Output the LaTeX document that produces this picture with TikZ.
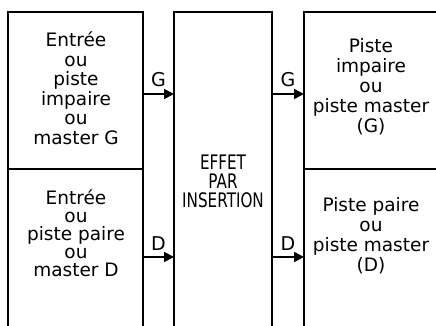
\documentclass[tikz,border=0pt]{standalone}
\usepackage{fontspec}
\setmainfont{DejaVu Sans}
\newfontfamily\condfont[FakeStretch=0.76]{DejaVu Sans}
\usepackage{tikz}
\usetikzlibrary{arrows.meta}

\begin{document}
\begin{tikzpicture}[x=1pt,y=1pt,
	txt/.style={align=center,inner sep=0pt,font=\fontsize{18.5}{19.5}\selectfont},
	wall/.style={line width=1.1pt},
	feed/.style={line width=1.8pt,-{Triangle[length=10pt,width=10pt]}},
	tag/.style={above=6pt,inner sep=0pt,font=\fontsize{19}{19.5}\selectfont}]
			
			\useasboundingbox (0,0) rectangle (436,326);
			
			% boxes (open at the bottom)
			\draw[wall] (8,0) -- (8,314) -- (143,314) -- (143,0);
			\draw[wall] (174,0) -- (174,314) -- (272,314) -- (272,0);
			\draw[wall] (436,314) -- (304,314) -- (304,0);
			\draw[wall] (8,157) -- (143,157);
			\draw[wall] (304,157) -- (436,157);
			
			% texts
			\node[txt] (inG) at (76,238) {Entrée\\ou\\piste\\impaire\\ou\\master G};
			\node[txt,font=\fontsize{18.5}{18}\selectfont] (inD) at (76,93) {Entrée\\ou\\piste paire\\ou\\master D};
			\node[txt,font=\condfont\fontsize{20}{19}\selectfont] (fx) at (223,145) {EFFET\\PAR\\INSERTION};
			\node[txt,font=\fontsize{18.5}{20}\selectfont] (outG) at (371,239) {Piste\\impaire\\ou\\piste master\\(G)};
			\node[txt,font=\fontsize{18.5}{20}\selectfont] (outD) at (371,90) {Piste paire\\ou\\piste master\\(D)};
			
			% arrow ends
			\coordinate (g1) at (143,232);
			\coordinate (g2) at (174,232);
			\coordinate (g3) at (272,232);
			\coordinate (g4) at (304,232);
			\coordinate (d1) at (143,69);
			\coordinate (d2) at (174,69);
			\coordinate (d3) at (272,69);
			\coordinate (d4) at (304,69);
			
			\draw[feed] (g1) -- node[tag]{G} (g2);
			\draw[feed] (g3) -- node[tag]{G} (g4);
			\draw[feed] (d1) -- node[tag]{D} (d2);
			\draw[feed] (d3) -- node[tag]{D} (d4);
			
		\end{tikzpicture}
\end{document}
